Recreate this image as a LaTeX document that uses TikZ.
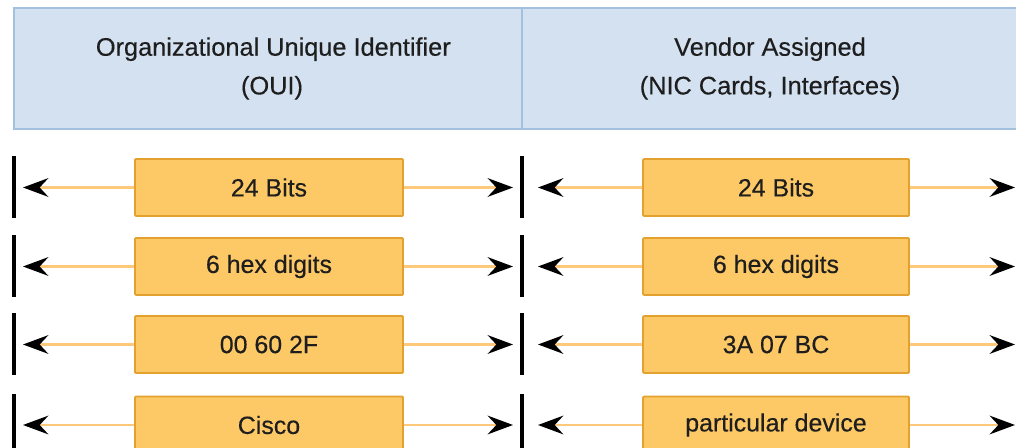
\documentclass[tikz,border=0pt]{standalone}
\usepackage{fontspec}
\setmainfont{Liberation Sans}[FakeBold=0.35]
\usetikzlibrary{arrows.meta}
\definecolor{hdrfill}{HTML}{D3E1F1}
\definecolor{hdrline}{HTML}{A3C1DF}
\definecolor{fieldfill}{HTML}{FDC966}
\definecolor{fieldline}{HTML}{E3A12F}
\definecolor{spanline}{HTML}{FFC97C}
\definecolor{ink}{HTML}{1E1E1E}
\tikzset{
  hdrcell/.style={draw=hdrline, fill=hdrfill, line width=1.2pt, inner sep=0pt,
    minimum height=90.75pt, text=ink, align=center,
    font=\fontsize{19}{29}\selectfont},
  field/.style={draw=fieldline, fill=fieldfill, line width=1.4pt, rounded corners=0.8pt,
    minimum height=42.75pt, inner sep=0pt, text=ink, font=\fontsize{18.7}{22}\selectfont},
  span/.style={draw=spanline, line width=2pt,
    -{Stealth[length=19pt, width=14pt, inset=6.5pt, black]}},
  bar/.style={draw=black, line width=2.5pt}
}
\begin{document}
\begin{tikzpicture}[x=0.75pt, y=-0.75pt]
\useasboundingbox (0,0) rectangle (1016,448);
\clip (0,0) rectangle (1016,448);

% header cells
\node[hdrcell, minimum width=381pt] (hl) at (268,68.5)
  {\hspace*{8pt}Organizational Unique Identifier\\\hspace*{6pt}(OUI)};
\node[hdrcell, minimum width=372pt] (hr) at (770,68.5)
  {Vendor Assigned\\(NIC Cards, Interfaces)};

% field rows: y position / left text / right text
\foreach \i/\y/\lt/\rt in {1/187.5/24 Bits/24 Bits,
                           2/266.5/6 hex digits/6 hex digits,
                           3/344.5/00 60 2F/3A 07 BC,
                           4/425/Cisco/particular device}{
  % boundary bars
  \draw[bar] (14,\y-31) -- (14,\y+31);
  \draw[bar] (522,\y-31) -- (522,\y+31);
  % fields
  \node[field, minimum width=201pt] (lb\i) at (269,\y) {\lt};
  \node[field, minimum width=199.5pt] (rb\i) at (776,\y) {\rt};
  % arrow tips
  \coordinate (ll\i) at (23,\y);
  \coordinate (lr\i) at (513,\y);
  \coordinate (rl\i) at (538,\y);
  \coordinate (rr\i) at (1015,\y);
  \draw[span] (lb\i.west) -- (ll\i);
  \draw[span] (lb\i.east) -- (lr\i);
  \draw[span] (rb\i.west) -- (rl\i);
  \draw[span] (rb\i.east) -- (rr\i);
}
\end{tikzpicture}
\end{document}
